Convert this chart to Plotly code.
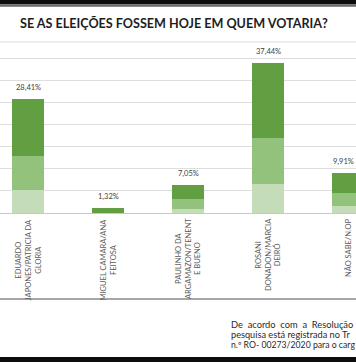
import plotly.graph_objects as go

# ---- data ----
categories = ["EDUARDO JAPONES/PATRICIA DA GLORIA", "MIGUEL CAMARA/ANA FEITOSA",
              "PAULINHO DA ARGAMAZON/TENENTE BUENO", "ROSANI DONADON/MARCIA DEIRÓ",
              "NÃO SABE/N.OP"]
tick_labels = ["EDUARDO<br>JAPONES/PATRICIA DA<br>GLORIA", "MIGUEL CAMARA/ANA<br>FEITOSA",
               "PAULINHO DA<br>ARGAMAZON/TENENT<br>E BUENO", "ROSANI<br>DONADON/MARCIA<br>DEIRÓ",
               "NÃO SABE/N.OP"]
totals = [28.41, 1.32, 7.05, 37.44, 9.91]
seg_light = [5.7, 0.0, 1.0, 7.2, 1.7]
seg_medium = [8.5, 0.0, 2.55, 11.5, 3.2]
seg_dark = [14.21, 1.32, 3.5, 18.74, 5.01]
value_labels = ["28,41%", "1,32%", "7,05%", "37,44%", "9,91%"]

title_text = "SE AS ELEIÇÕES FOSSEM HOJE EM QUEM VOTARIA?"
footer_lines = ["De&nbsp;&nbsp;acordo&nbsp;&nbsp;com&nbsp;&nbsp;a&nbsp;&nbsp;Resolução",
                "pesquisa está registrada no Tr",
                "n.º RO- 00273/2020 para o carg"]
footer_sizes = [9.3, 9.2, 8.7]

# ---- layout geometry (pixels) ----
W, H = 356, 362
T, B = 42, 149
PLOT_H = H - T - B
BASE = H - B


def py(p):
    """pixel y -> paper y"""
    return (BASE - p) / PLOT_H


def px(p):
    return p / W


fig = go.Figure()
for vals, col in [(seg_light, "#c5dcb9"), (seg_medium, "#93c27c"), (seg_dark, "#629f43")]:
    fig.add_trace(go.Bar(x=categories, y=vals, marker=dict(color=col, line=dict(width=0)),
                         width=0.4, showlegend=False, hoverinfo="skip"))

annotations = []
n = len(categories)
for i, (c, t, lab) in enumerate(zip(categories, totals, value_labels)):
    annotations.append(dict(x=c, y=t, xref="x", yref="y", text=lab, showarrow=False,
                            yanchor="bottom", yshift=5, xshift=(-5 if i == n - 1 else 0),
                            font=dict(family="Lato, Roboto", size=7.5, color="#404040")))
for c, lab in zip(categories, tick_labels):
    annotations.append(dict(x=c, y=py(216), xref="x", yref="paper", text=lab, showarrow=False,
                            textangle=-90, yanchor="top", xanchor="center", align="center",
                            font=dict(family="Lato, Roboto", size=7.5, color="#595959")))
annotations.append(dict(x=px(18), y=py(24), xref="paper", yref="paper", text="<b>" + title_text + "</b>",
                        showarrow=False, xanchor="left", yanchor="middle",
                        font=dict(family="Lato", size=12.6, color="#1e1e1e")))
for i, (line, fs) in enumerate(zip(footer_lines, footer_sizes)):
    annotations.append(dict(x=px(228.5), y=py(324.5 + 10 * i), xref="paper", yref="paper", text=line,
                            showarrow=False, xanchor="left", yanchor="middle",
                            font=dict(family="Lato", size=fs, color="#2a2a2a")))

shapes = [
    dict(type="rect", xref="paper", yref="paper", x0=-0.1, x1=1.1, y0=py(4.5), y1=py(-20),
         fillcolor="#0d0d0d", line=dict(width=0), layer="above"),
    dict(type="line", xref="paper", yref="paper", x0=-0.1, x1=1.1, y0=py(5.8), y1=py(5.8),
         line=dict(color="#6a6a6a", width=2)),
    dict(type="line", xref="paper", yref="paper", x0=-0.1, x1=1.1, y0=1, y1=1,
         line=dict(color="#dcdcdc", width=1)),
    dict(type="line", xref="paper", yref="paper", x0=-0.1, x1=1.1, y0=py(299), y1=py(299),
         line=dict(color="#8a8a8a", width=1.5)),
    dict(type="rect", xref="paper", yref="paper", x0=-0.1, x1=1.1, y0=py(380), y1=py(357),
         fillcolor="#0d0d0d", line=dict(width=0), layer="above"),
]

fig.update_layout(
    width=W, height=H, barmode="stack", bargap=0.6,
    margin=dict(l=0, r=0, t=T, b=B, pad=0),
    paper_bgcolor="white", plot_bgcolor="white",
    xaxis=dict(range=[-0.356, 4.094], showticklabels=False, showgrid=False, zeroline=False,
               showline=False, ticks="", fixedrange=True),
    yaxis=dict(range=[0, PLOT_H / 4.01], dtick=5.5, showticklabels=False, showgrid=True,
               gridcolor="#dedede", gridwidth=1, zeroline=True, zerolinecolor="#c8c8c8",
               zerolinewidth=1, showline=False, ticks="", fixedrange=True),
    annotations=annotations, shapes=shapes,
)

fig.write_html("out.html", config={"displayModeBar": False},
               post_script="document.body.style.margin='0';document.body.style.padding='0';"
                           "document.documentElement.style.overflow='hidden';")
